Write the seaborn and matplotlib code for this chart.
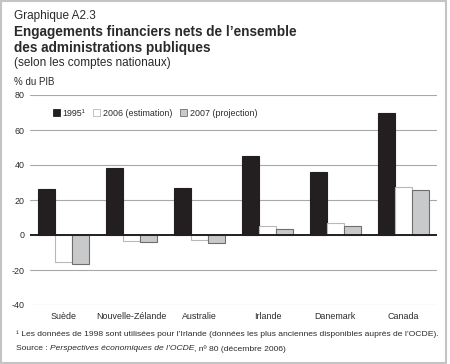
import matplotlib
matplotlib.use("Agg")
import matplotlib.pyplot as plt
import matplotlib.patches as mpatches
import numpy as np
import pandas as pd
import seaborn as sns

countries = ["Suède", "Nouvelle-Zélande", "Australie", "Irlande", "Danemark", "Canada"]
series = ["1995¹", "2006 (estimation)", "2007 (projection)"]
v1995 = [26.3, 38.1, 26.7, 45.1, 36.0, 69.5]
v2006 = [-15.2, -3.6, -2.9, 5.1, 7.0, 27.6]
v2007 = [-16.6, -3.8, -4.6, 3.2, 5.3, 25.7]
yticks = [-40, -20, 0, 20, 40, 60, 80]

fills = ["#231f20", "#ffffff", "#c8c9cb"]
edges = ["#231f20", "#b8b8b8", "#6e6e6e"]

df = pd.DataFrame({
    "pays": countries * 3,
    "serie": [series[0]] * 6 + [series[1]] * 6 + [series[2]] * 6,
    "valeur": v1995 + v2006 + v2007,
})

sns.set_theme(style="white")
plt.rcParams["font.family"] = ["Liberation Sans", "DejaVu Sans"]

fig = plt.figure(figsize=(4.5, 3.64), dpi=100)
W, H = 450, 364
ax = fig.add_axes([30 / W, 1 - 305 / H, 407 / W, 210 / H])

sns.barplot(data=df, x="pays", y="valeur", hue="serie", palette=fills,
            width=0.75, ax=ax, legend=False, saturation=1, zorder=3)
for i, cont in enumerate(ax.containers):
    for bar in cont:
        bar.set_edgecolor(edges[i])
        bar.set_linewidth(0.8)

c = "#2a2a2a"
ax.set_ylim(-40, 80)
ax.set_xlim(-0.5, 5.5)
ax.set_yticks(yticks)
ax.set_yticklabels([str(t) for t in yticks], fontsize=6.4, color=c)
ax.tick_params(axis="x", labelsize=6.4, colors=c, length=0, pad=5)
ax.tick_params(axis="y", length=0, pad=4)
for t in yticks:
    if t != 0:
        ax.axhline(t, color="#a8a8a8", lw=0.8, zorder=1)
ax.axhline(0, color="#231f20", lw=1.4, zorder=4)
for s in ax.spines.values():
    s.set_visible(False)
ax.set_xlabel("")
ax.set_ylabel("")

handles = [mpatches.Patch(facecolor=fills[i], edgecolor=edges[i] if i else fills[i], lw=0.6)
           for i in range(3)]
ax.legend(handles, series, ncol=3, frameon=False, fontsize=6.4,
          loc="center left", bbox_to_anchor=(0.045, 0.914),
          handlelength=0.8, handleheight=0.8, handletextpad=0.3, columnspacing=0.9,
          borderpad=0, labelcolor=c)

def px(x, y):
    return x / W, 1 - y / H

fig.text(*px(14, 16), "Graphique A2.3", fontsize=8.5, va="center", color=c)
fig.text(*px(14, 32), "Engagements financiers nets de l’ensemble", fontsize=9.8,
         fontweight="bold", va="center", color=c)
fig.text(*px(14, 48), "des administrations publiques", fontsize=9.8,
         fontweight="bold", va="center", color=c)
fig.text(*px(14, 63), "(selon les comptes nationaux)", fontsize=8.5, va="center", color=c)
fig.text(*px(14, 82), "% du PIB", fontsize=7, va="center", color=c)

fs = 6.1
fig.text(*px(16, 334), "¹ Les données de 1998 sont utilisées pour l’Irlande (données les plus anciennes "
         "disponibles auprès de l’OCDE).", fontsize=fs, va="center", color=c)

renderer = fig.canvas.get_renderer()
t1 = fig.text(*px(16, 349), "Source : ", fontsize=fs, va="center", color=c)
x1 = t1.get_window_extent(renderer).x1 / W
t2 = fig.text(x1, 1 - 349 / H, "Perspectives économiques de l’OCDE", fontsize=fs,
              style="italic", va="center", color=c)
x2 = t2.get_window_extent(renderer).x1 / W
fig.text(x2, 1 - 349 / H, ", nº 80 (décembre 2006)", fontsize=fs, va="center", color=c)

fig.patches.append(mpatches.Rectangle((0.002, 0.003), 0.99, 0.994, transform=fig.transFigure,
                                      fill=False, edgecolor="#c4c4c4", lw=1.5))

fig.savefig("out.png", dpi=100)
